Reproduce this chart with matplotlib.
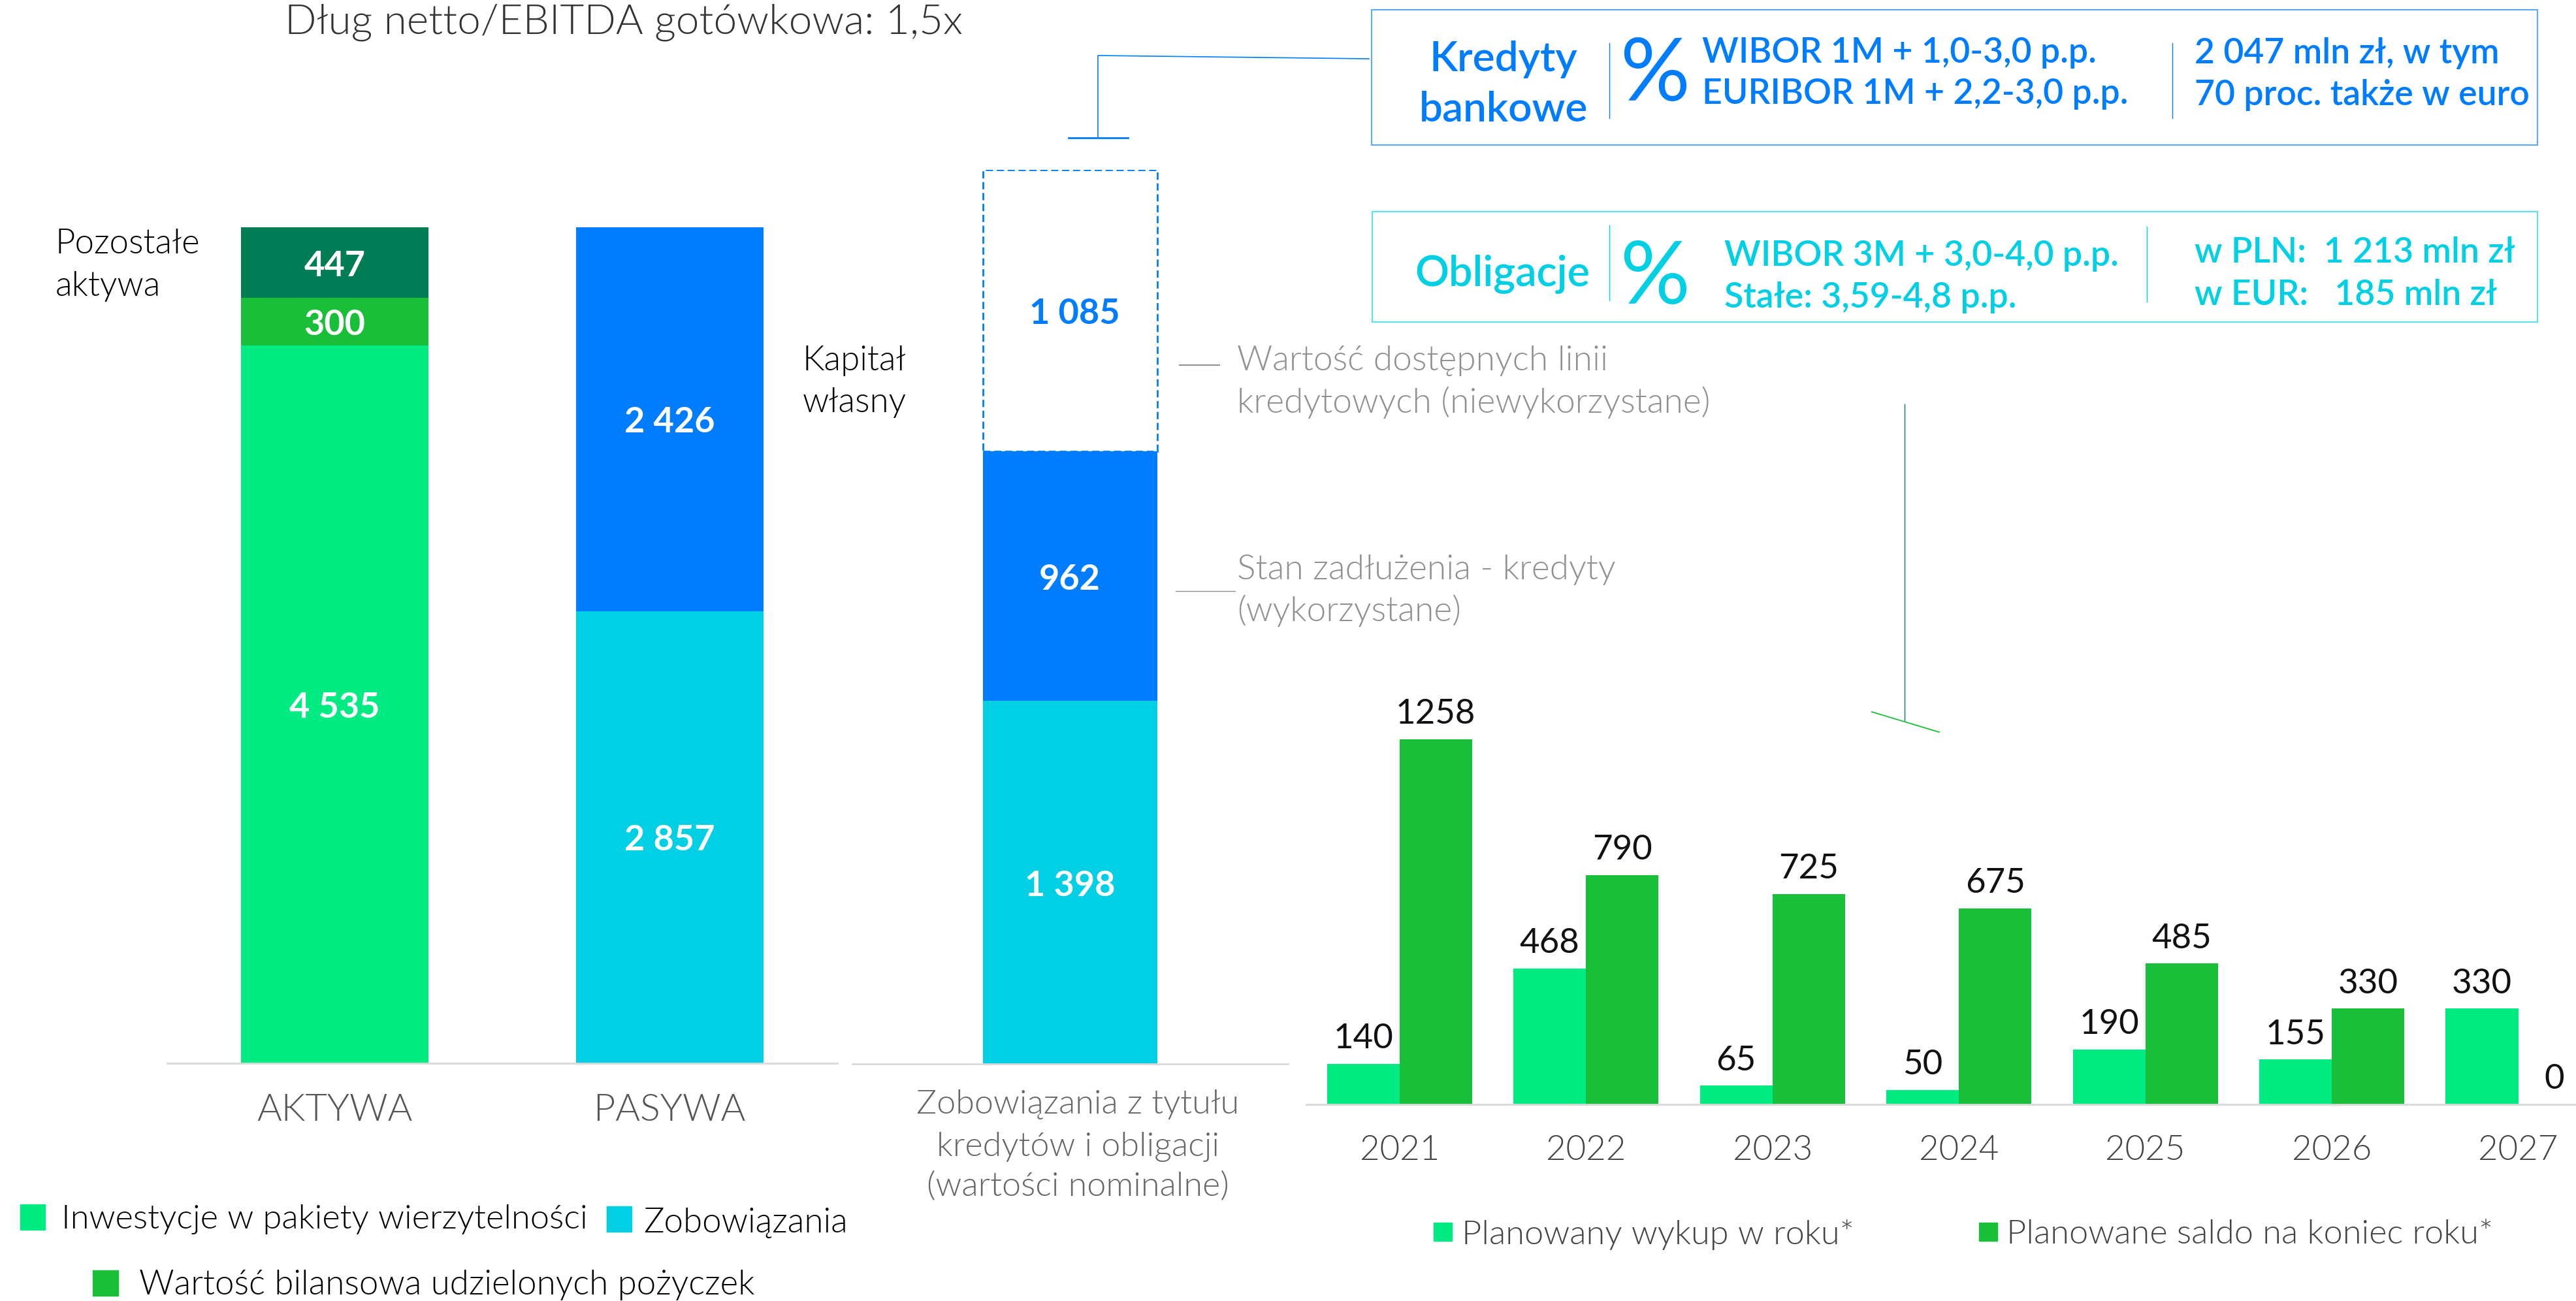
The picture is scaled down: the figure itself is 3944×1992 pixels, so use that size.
import matplotlib
matplotlib.use("Agg")
import matplotlib.pyplot as plt
from matplotlib.patches import Rectangle
from matplotlib.lines import Line2D
import numpy as np

W, H = 3944, 1992

# balance sheet
bs_categories = ['AKTYWA', 'PASYWA']
aktywa_loans = 4535
aktywa_bilans = 300
aktywa_other = 447
pasywa_liab = 2857
pasywa_equity = 2426

# debt column
debt_bonds = 1398
debt_credit = 962
debt_unused = 1085

# redemption schedule
years = ['2021', '2022', '2023', '2024', '2025', '2026', '2027']
wykup = [140, 468, 65, 50, 190, 155, 330]
saldo = [1258, 790, 725, 675, 485, 330, 0]

GREEN = '#00EC82'
DGREEN = '#1ABF39'
DDGREEN = '#007D55'
BLUE = '#007DFF'
CYAN = '#00CFE4'
AXIS = '#D9D9D9'
LIGHT = 300  # Lato-Light, 'light' picks Lato-Thin
SEMI = 600

plt.rcParams['font.family'] = ['Lato', 'DejaVu Sans']

fig = plt.figure(figsize=(W / 100, H / 100), dpi=100)


# axes placed by pixel box
def px_axes(x0, y0, x1, y1):
    ax = fig.add_axes([x0 / W, 1 - y1 / H, (x1 - x0) / W, (y1 - y0) / H])
    for s in ['top', 'left', 'right']:
        ax.spines[s].set_visible(False)
    ax.spines['bottom'].set_color(AXIS)
    ax.spines['bottom'].set_linewidth(2)
    ax.set_yticks([])
    ax.tick_params(axis='x', length=0)
    ax.patch.set_alpha(0)
    return ax


def txt(x, y, s, **kw):
    kw.setdefault('va', 'center')
    kw.setdefault('ha', 'left')
    return fig.text(x / W, 1 - (y + 4) / H, s, **kw)


def line(xs, ys, color, lw):
    fig.add_artist(Line2D([x / W for x in xs], [1 - y / H for y in ys], color=color, lw=lw))


def box(x0, y0, x1, y1, **kw):
    fig.add_artist(Rectangle((x0 / W, 1 - y1 / H), (x1 - x0) / W, (y1 - y0) / H,
                             transform=fig.transFigure, **kw))


def fmt(v):
    return f'{v:,}'.replace(',', ' ')


def inner(ax, x, y, v, color='white'):
    ax.annotate(fmt(v), (x, y), xytext=(0, -3.5), textcoords='offset points', color=color,
                fontsize=39, weight='bold', ha='center', va='center')


# balance sheet bars
ax1 = px_axes(256, 348, 1282, 1628)
ax1.bar(0, aktywa_loans, 0.56, color=GREEN)
ax1.bar(0, aktywa_bilans, 0.56, bottom=aktywa_loans, color=DGREEN)
ax1.bar(0, aktywa_other, 0.56, bottom=aktywa_loans + aktywa_bilans, color=DDGREEN)
ax1.bar(1, pasywa_liab, 0.56, color=CYAN)
ax1.bar(1, pasywa_equity, 0.56, bottom=pasywa_liab, color=BLUE)
ax1.set_xlim(-0.5, 1.5)
ax1.set_ylim(0, aktywa_loans + aktywa_bilans + aktywa_other)
ax1.set_xticks([0, 1], bs_categories, fontsize=41.5, weight=LIGHT, color='#555555')
ax1.tick_params(axis='x', pad=34)
for x, b, v in [(0, 0, aktywa_loans), (0, aktywa_loans, aktywa_bilans),
                (0, aktywa_loans + aktywa_bilans, aktywa_other),
                (1, 0, pasywa_liab), (1, pasywa_liab, pasywa_equity)]:
    inner(ax1, x, b + v / 2, v)

# debt column
ax2 = px_axes(1305, 260, 1972, 1629)
ax2.bar(0, debt_bonds, 267, color=CYAN)
ax2.bar(0, debt_credit, 267, bottom=debt_bonds, color=BLUE)
ax2.bar(0, debt_unused, 267, bottom=debt_bonds + debt_credit, fill=False, edgecolor=BLUE,
        lw=2, linestyle=(0, (4, 2)))
ax2.set_xlim(1305 - 1638, 1972 - 1638)
ax2.set_ylim(0, debt_bonds + debt_credit + debt_unused)
ax2.set_xticks([])
inner(ax2, 0, debt_bonds / 2, debt_bonds)
inner(ax2, 0, debt_bonds + debt_credit / 2, debt_credit)
inner(ax2, 7, debt_bonds + debt_credit + debt_unused / 2, debt_unused, BLUE)

# redemption bars
ax3 = px_axes(2000, 1132, 3944, 1691)
xs = np.arange(len(years))
bw = 0.389
ax3.bar(xs - bw / 2, wykup, bw, color=GREEN)
ax3.bar(xs + bw / 2, saldo, bw, color=DGREEN)
ax3.set_xlim(-0.5, 6.31)
ax3.set_ylim(0, max(saldo))
ax3.set_xticks(xs, years, fontsize=38, weight=LIGHT, color='#444444')
ax3.tick_params(axis='x', pad=34)
for x, v in zip(xs, wykup):
    ax3.annotate(str(v), (x - bw / 2, v), xytext=(0, 17), textcoords='offset points',
                 ha='center', va='baseline', fontsize=38, color='#111111', annotation_clip=False)
for x, v in zip(xs, saldo):
    ax3.annotate(str(v), (x + bw / 2, v), xytext=(0, 17), textcoords='offset points',
                 ha='center', va='baseline', fontsize=38, color='#111111', annotation_clip=False)

# title and side labels
txt(436, 30, 'Dług netto/EBITDA gotówkowa: 1,5x', fontsize=46, weight=LIGHT, color='#333333')
txt(85, 370, 'Pozostałe', fontsize=38, weight=LIGHT, color='black')
txt(85, 435, 'aktywa', fontsize=38, weight=LIGHT, color='black')
txt(1229, 549, 'Kapitał', fontsize=38, weight=LIGHT, color='black')
txt(1229, 612, 'własny', fontsize=38, weight=LIGHT, color='black')

for y, s in [(1687, 'Zobowiązania z tytułu'), (1752, 'kredytów i obligacji'), (1813, '(wartości nominalne)')]:
    txt(1650, y, s, ha='center', fontsize=37.5, weight=LIGHT, color='#666666')

GRAY = '#909090'
line([1806, 1867], [559, 559], GRAY, 1.5)
line([1800, 1891], [905, 905], GRAY, 1)
txt(1894, 549, 'Wartość dostępnych linii', fontsize=38.3, weight=LIGHT, color=GRAY)
txt(1894, 612, 'kredytowych (niewykorzystane)', fontsize=38.3, weight=LIGHT, color=GRAY)
txt(1894, 868, 'Stan zadłużenia - kredyty', fontsize=38.3, weight=LIGHT, color=GRAY)
txt(1894, 931, '(wykorzystane)', fontsize=38.3, weight=LIGHT, color=GRAY)

# left legend
box(31, 1844, 69, 1883, color=GREEN)
txt(94, 1863, 'Inwestycje w pakiety wierzytelności', fontsize=37.7, weight=LIGHT, color='black')
box(929, 1847, 967, 1886, color=CYAN)
txt(985, 1868, 'Zobowiązania', fontsize=38, weight=LIGHT, color='black')
box(142, 1945, 181, 1984, color=DGREEN)
txt(213, 1963, 'Wartość bilansowa udzielonych pożyczek', fontsize=38, weight=LIGHT, color='black')

# right legend
box(2195, 1872, 2223, 1900, color=GREEN)
txt(2238, 1886, 'Planowany wykup w roku*', fontsize=37.7, weight=LIGHT, color='#444444')
box(3030, 1872, 3058, 1900, color=DGREEN)
txt(3072, 1886, 'Planowane saldo na koniec roku*', fontsize=37.7, weight=LIGHT, color='#444444')

# info boxes
box(2100, 15, 3885, 222, fill=False, edgecolor='#5AA9FF', lw=1.5)
line([2464, 2464], [66, 181], BLUE, 1)
line([3326, 3326], [66, 181], BLUE, 1)
txt(2302, 87, 'Kredyty', ha='center', fontsize=46, weight=SEMI, color=BLUE)
txt(2302, 163, 'bankowe', ha='center', fontsize=46, weight=SEMI, color=BLUE)
txt(2534, 112, '%', ha='center', fontsize=96, color=BLUE)
txt(2606, 76, 'WIBOR 1M + 1,0-3,0 p.p.', fontsize=38.5, weight=SEMI, color=BLUE)
txt(2606, 140, 'EURIBOR 1M + 2,2-3,0 p.p.', fontsize=38.5, weight=SEMI, color=BLUE)
txt(3360, 78, '2 047 mln zł, w tym', fontsize=38.5, weight=SEMI, color=BLUE)
txt(3360, 142, '70 proc. także w euro', fontsize=38.5, weight=SEMI, color=BLUE)

box(2101, 324, 3885, 493, fill=False, edgecolor='#5FE0EE', lw=1.5)
line([2464, 2464], [345, 460], CYAN, 1)
line([3287, 3287], [347, 462], CYAN, 1)
txt(2300, 416, 'Obligacje', ha='center', fontsize=46.5, weight=SEMI, color=CYAN)
txt(2534, 424, '%', ha='center', fontsize=96, color=CYAN)
txt(2640, 387, 'WIBOR 3M + 3,0-4,0 p.p.', fontsize=38.5, weight=SEMI, color=CYAN)
txt(2640, 451, 'Stałe: 3,59-4,8 p.p.', fontsize=38.5, weight=SEMI, color=CYAN)
txt(3360, 383, 'w PLN:  1 213 mln zł', fontsize=38.5, weight=SEMI, color=CYAN)
txt(3360, 447, 'w EUR:   185 mln zł', fontsize=38.5, weight=SEMI, color=CYAN)

# connectors
line([2096, 1681, 1681], [90, 85, 211], BLUE, 1.2)
line([1636, 1727], [211, 211], BLUE, 2)
line([2916, 2916], [619, 1103], DDGREEN, 1)
line([2866, 2969], [1090, 1121], DGREEN, 1.3)

fig.savefig('out.png', dpi=100, facecolor='white')
